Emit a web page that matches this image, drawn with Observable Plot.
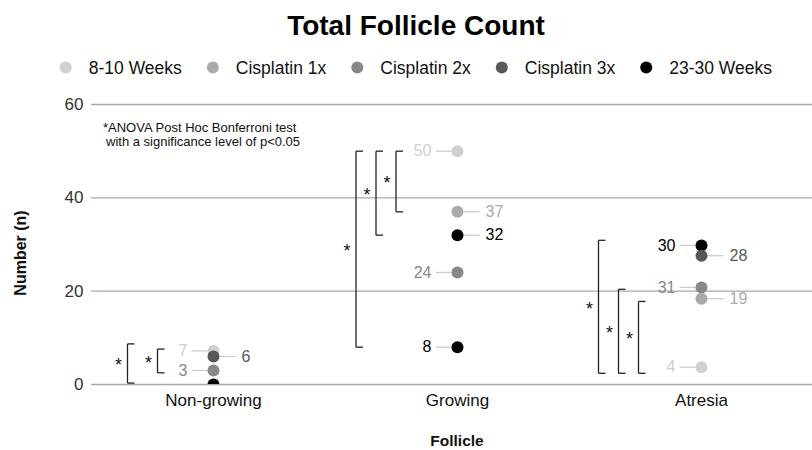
<!DOCTYPE html>
<html><head><meta charset="utf-8">
<script src="https://cdn.jsdelivr.net/npm/d3@7"></script>
<script src="https://cdn.jsdelivr.net/npm/@observablehq/plot@0.6"></script>
<style>
body{margin:0;background:#fff;font-family:"Liberation Sans",Arial,sans-serif;}
#wrap{position:relative;width:812px;height:450px;overflow:hidden;}
#wrap svg{position:absolute;left:0;top:0;}
#overlay{pointer-events:none;}
</style></head><body>
<div id="wrap"></div>
<script>
// ---------- data ----------
const categories = ["Non-growing", "Growing", "Atresia"];
const seriesNames = ["8-10 Weeks", "Cisplatin 1x", "Cisplatin 2x", "Cisplatin 3x", "23-30 Weeks"];
const seriesColors = ["#d0d0d0", "#aaaaaa", "#888888", "#585858", "#000000"];
const yTicks = [0, 20, 40, 60];

const pointCategory = ["Non-growing", "Non-growing", "Non-growing", "Non-growing",
  "Growing", "Growing", "Growing", "Growing", "Growing",
  "Atresia", "Atresia", "Atresia", "Atresia", "Atresia"];
const pointSeries = ["8-10 Weeks", "Cisplatin 3x", "Cisplatin 2x", "23-30 Weeks",
  "8-10 Weeks", "Cisplatin 1x", "23-30 Weeks", "Cisplatin 2x", "23-30 Weeks",
  "23-30 Weeks", "Cisplatin 3x", "Cisplatin 2x", "Cisplatin 1x", "8-10 Weeks"];
const pointValue = [7.2, 6.0, 3.0, 0,
  50, 37, 32, 24, 8,
  29.8, 27.6, 20.8, 18.4, 3.7];
const pointLabel = ["7", "6", "3", "",
  "50", "37", "32", "24", "8",
  "30", "28", "31", "19", "4"];
const labelSide = ["left", "right", "left", "none",
  "left", "right", "right", "left", "left",
  "left", "right", "left", "right", "left"];

const bracketCategory = ["Non-growing", "Non-growing", "Growing", "Growing", "Growing", "Atresia", "Atresia", "Atresia"];
const bracketFrom = [0.3, 2.5, 8, 32, 37, 2.4, 2.4, 2.4];
const bracketTo = [8.7, 7.6, 50, 50, 50, 30.9, 20.4, 17.8];
const bracketMark = ["*", "*", "*", "*", "*", "*", "*", "*"];

const titleText = "Total Follicle Count";
const noteLines = ["*ANOVA Post Hoc Bonferroni test", "with a significance level of p<0.05"];
const xTitle = "Follicle";
const yTitle = "Number (n)";

// ---------- layout ----------
const W = 812, H = 450;
const xr = [91, 823];
const k = 3 / (xr[1] - xr[0]); // data units per pixel on x
const bracketLayout = {"Non-growing": [-86, 30], "Growing": [-101.5, 20], "Atresia": [-103, 20]};

const points = pointValue.map((v, i) => ({
  cat: categories.indexOf(pointCategory[i]),
  series: pointSeries[i], value: v, label: pointLabel[i], side: labelSide[i]
}));
const seen = {};
const brackets = bracketFrom.map((f, i) => {
  const c = bracketCategory[i];
  const lvl = seen[c] = (seen[c] === undefined ? 0 : seen[c] + 1);
  const [start, step] = bracketLayout[c];
  const bx = categories.indexOf(c) + (start + step * lvl) * k;
  return {bx, from: f, to: bracketTo[i], mark: bracketMark[i]};
});
const segs = [];
brackets.forEach(b => {
  segs.push({x1: b.bx, x2: b.bx, y1: b.from, y2: b.to});
  segs.push({x1: b.bx, x2: b.bx + 7 * k, y1: b.from, y2: b.from});
  segs.push({x1: b.bx, x2: b.bx + 7 * k, y1: b.to, y2: b.to});
});
const leftPts = points.filter(d => d.side === "left");
const rightPts = points.filter(d => d.side === "right");

const chart = Plot.plot({
  width: W, height: H,
  marginLeft: xr[0], marginRight: 0, marginTop: 104, marginBottom: H - 384,
  style: {fontFamily: "'Liberation Sans', Arial, sans-serif", background: "transparent"},
  x: {type: "linear", domain: [-0.5, 2.5], range: xr},
  y: {domain: [0, 60], range: [384, 104]},
  color: {domain: seriesNames, range: seriesColors},
  marks: [
    Plot.ruleY(yTicks, {stroke: "#a8a8a8", strokeWidth: 1.3}),
    Plot.axisY({ticks: yTicks, tickSize: 0, tickPadding: 8, fontSize: 17, label: null, fill: "#333"}),
    Plot.axisX({ticks: [0, 1, 2], tickFormat: i => categories[i], tickSize: 0, tickPadding: 9, fontSize: 17, label: null, fill: "#111"}),
    Plot.link(segs, {x1: "x1", x2: "x2", y1: "y1", y2: "y2", stroke: "#222", strokeWidth: 1.3}),
    Plot.text(brackets, {x: d => d.bx - 9 * k, y: d => (d.from + d.to) / 2, text: "mark", fontSize: 18, fill: "#111", dy: 2}),
    Plot.link(leftPts, {x1: d => d.cat - 22 * k, x2: d => d.cat - 6 * k, y1: "value", y2: "value", stroke: "#cccccc", strokeWidth: 1.3}),
    Plot.link(rightPts, {x1: d => d.cat + 6 * k, x2: d => d.cat + 22 * k, y1: "value", y2: "value", stroke: "#cccccc", strokeWidth: 1.3}),
    Plot.dot(points, {x: "cat", y: "value", fill: "series", r: 6, clip: true}),
    Plot.text(leftPts, {x: "cat", y: "value", text: "label", fill: "series", fontSize: 16, textAnchor: "end", dx: -26}),
    Plot.text(rightPts, {x: "cat", y: "value", text: "label", fill: "series", fontSize: 16, textAnchor: "start", dx: 28})
  ]
});
const wrap = document.getElementById("wrap");
wrap.appendChild(chart);

// ---------- overlay: title, legend, axis titles, note ----------
const ov = d3.select(wrap).append("svg").attr("id", "overlay")
  .attr("width", W).attr("height", H)
  .style("font-family", "'Liberation Sans', Arial, sans-serif");
ov.append("text").attr("x", 416).attr("y", 35).attr("text-anchor", "middle")
  .attr("font-size", 28).attr("font-weight", "bold").attr("fill", "#000").text(titleText);

const lg = ov.append("g");
let cx = 0;
seriesNames.forEach((s, i) => {
  lg.append("circle").attr("cx", cx).attr("cy", 67.5).attr("r", 6).attr("fill", seriesColors[i]);
  const t = lg.append("text").attr("x", cx + 23).attr("y", 73.5).attr("font-size", 17.5).attr("fill", "#111").text(s);
  cx = cx + 23 + t.node().getComputedTextLength() + 31;
});
const bb = lg.node().getBBox();
lg.attr("transform", `translate(${416 - (bb.x + bb.width / 2)},0)`);

ov.append("text").attr("x", 103).attr("y", 131.5).attr("font-size", 13).attr("fill", "#111").text(noteLines[0]);
ov.append("text").attr("x", 106).attr("y", 145.5).attr("font-size", 13).attr("fill", "#111").text(noteLines[1]);

ov.append("text").attr("x", 457).attr("y", 446).attr("text-anchor", "middle")
  .attr("font-size", 15.5).attr("font-weight", "bold").attr("fill", "#111").text(xTitle);
ov.append("text").attr("transform", "translate(26,253) rotate(-90)").attr("text-anchor", "middle")
  .attr("font-size", 16).attr("font-weight", "bold").attr("fill", "#111").text(yTitle);
</script>
</body></html>
